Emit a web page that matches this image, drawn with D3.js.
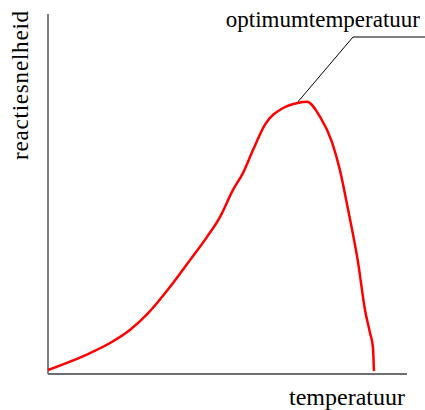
<!DOCTYPE html>
<html>
<head>
<meta charset="utf-8">
<script src="https://cdn.jsdelivr.net/npm/d3@7"></script>
<style>
  body { margin: 0; background: #fff; }
  text { font-family: "Liberation Serif", "Times New Roman", serif; fill: #000; }
</style>
</head>
<body>
<svg id="chart"></svg>
<script>
// temperature (0-100) against reaction speed (0-100)
const temperature = [0, 11.7, 17.3, 22.8, 27.9, 34.0, 39.6, 44.3, 47.9, 51.5, 54.3, 57.1, 60.4, 65.5, 69.6, 72.1, 75.8, 79.1, 81.3, 83.6, 86.4, 88.3, 89.7, 90.5, 90.8];
const snelheid    = [1.1, 5.8, 8.6, 12.2, 16.9, 24.2, 31.7, 38.1, 43.6, 51.1, 55.8, 62.2, 69.2, 73.9, 75.3, 75.6, 71.4, 64.4, 56.7, 45.6, 30.8, 17.8, 11.4, 7.5, 0.8];
const optimumIndex = 14;

const xLabel = "temperatuur";
const yLabel = "reactiesnelheid";
const optimumLabel = "optimumtemperatuur";

function drawChart() {
    const width = 425, height = 410;
    const margin = { top: 14, right: 18, bottom: 36, left: 48 };

    const svg = d3.select("#chart")
        .attr("width", width)
        .attr("height", height);

    const x = d3.scaleLinear()
        .domain([0, 100])
        .range([margin.left, width - margin.right]);

    const y = d3.scaleLinear()
        .domain([0, 100])
        .range([height - margin.bottom, margin.top]);

    const points = temperature.map((t, i) => ({ t, v: snelheid[i] }));

    // y axis (thin black)
    svg.append("line")
        .attr("x1", x(0)).attr("x2", x(0))
        .attr("y1", y(100)).attr("y2", y(0))
        .attr("stroke", "#000")
        .attr("stroke-width", 1);

    // x axis (grey, a bit heavier)
    svg.append("line")
        .attr("x1", x(0)).attr("x2", x(100))
        .attr("y1", y(0)).attr("y2", y(0))
        .attr("stroke", "#6e6e6e")
        .attr("stroke-width", 2);

    const line = d3.line()
        .x(d => x(d.t))
        .y(d => y(d.v))
        .curve(d3.curveMonotoneX);

    svg.append("path")
        .datum(points)
        .attr("d", line)
        .attr("fill", "none")
        .attr("stroke", "#ff0000")
        .attr("stroke-width", 2.5)
        .attr("stroke-linejoin", "round");

    // leader line to the optimum
    const peak = points[optimumIndex];
    const elbow = [353, 37];
    svg.append("polyline")
        .attr("points", `${x(peak.t)},${y(peak.v) - 1} ${elbow[0]},${elbow[1]} ${width},${elbow[1]}`)
        .attr("fill", "none")
        .attr("stroke", "#000")
        .attr("stroke-width", 1);

    svg.append("text")
        .attr("x", 420)
        .attr("y", 27)
        .attr("text-anchor", "end")
        .style("font-size", "23px")
        .text(optimumLabel);

    svg.append("text")
        .attr("x", 405)
        .attr("y", 405)
        .attr("text-anchor", "end")
        .style("font-size", "24px")
        .text(xLabel);

    svg.append("text")
        .attr("transform", `translate(28,160) rotate(-90)`)
        .attr("text-anchor", "start")
        .style("font-size", "23px")
        .style("letter-spacing", "0.8px")
        .text(yLabel);
}

drawChart();
</script>
</body>
</html>
